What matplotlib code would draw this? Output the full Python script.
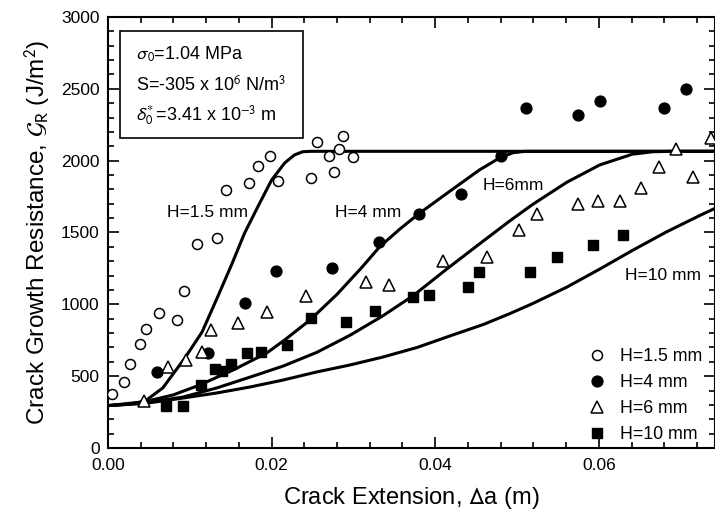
import matplotlib
matplotlib.use("Agg")
import matplotlib.pyplot as plt
from matplotlib.ticker import MultipleLocator
from matplotlib.patches import Rectangle

plt.rcParams["font.family"] = ["Liberation Sans", "DejaVu Sans"]
plt.rcParams["mathtext.fontset"] = "stixsans"

# measured points, crack extension (m) vs G_R (J/m^2)
x_h15 = [0.0005, 0.0020, 0.0027, 0.0039, 0.0046, 0.0062, 0.0084, 0.0093, 0.0109,
         0.0133, 0.0144, 0.0172, 0.0184, 0.0198, 0.0208, 0.0248, 0.0255, 0.0270,
         0.0276, 0.0282, 0.0287, 0.0299]
y_h15 = [376, 459, 585, 724, 828, 940, 891, 1093, 1420,
         1462, 1796, 1844, 1963, 2032, 1858, 1879, 2130, 2032,
         1921, 2081, 2172, 2025]

x_h4 = [0.0060, 0.0122, 0.0167, 0.0205, 0.0274, 0.0331, 0.0380, 0.0432, 0.0481,
        0.0511, 0.0575, 0.0601, 0.0680, 0.0706]
y_h4 = [529, 661, 1009, 1232, 1253, 1434, 1629, 1768, 2032,
        2366, 2318, 2415, 2366, 2499]

x_h6 = [0.0044, 0.0073, 0.0095, 0.0115, 0.0126, 0.0159, 0.0195, 0.0242, 0.0316,
        0.0343, 0.0409, 0.0463, 0.0503, 0.0524, 0.0574, 0.0599, 0.0626, 0.0652,
        0.0673, 0.0694, 0.0715, 0.0737]
y_h6 = [327, 564, 612, 668, 821, 870, 947, 1058, 1155,
        1134, 1301, 1329, 1517, 1629, 1698, 1719, 1719, 1810,
        1956, 2081, 1886, 2158]

x_h10 = [0.0071, 0.0092, 0.0114, 0.0131, 0.0139, 0.0151, 0.0170, 0.0187, 0.0219,
         0.0248, 0.0291, 0.0326, 0.0373, 0.0392, 0.0440, 0.0453, 0.0516, 0.0549,
         0.0593, 0.0629]
y_h10 = [292, 292, 438, 550, 536, 585, 661, 668, 717,
         905, 877, 954, 1051, 1065, 1121, 1225, 1225, 1329,
         1413, 1482]

# model curves
cx_h15 = [0.0, 0.0025, 0.0045, 0.0067, 0.0094, 0.0115, 0.0134, 0.0152, 0.0167,
          0.0183, 0.0200, 0.0216, 0.0228, 0.0238, 0.0248, 0.0742]
cy_h15 = [295, 305, 325, 418, 626, 807, 1051, 1288, 1496,
          1677, 1865, 1984, 2040, 2062, 2065, 2065]

cx_h4 = [0.0, 0.0045, 0.0080, 0.0112, 0.0153, 0.0194, 0.0216, 0.0247, 0.0280,
         0.0310, 0.0332, 0.0357, 0.0381, 0.0421, 0.0454, 0.0479, 0.0495,
         0.0510, 0.0742]
cy_h4 = [295, 322, 370, 438, 543, 661, 752, 891, 1070,
         1255, 1400, 1525, 1635, 1800, 1935, 2020, 2055, 2065, 2065]

cx_h6 = [0.0, 0.0045, 0.0092, 0.0133, 0.0174, 0.0214, 0.0255, 0.0296, 0.0336,
         0.0373, 0.0414, 0.0454, 0.0491, 0.0519, 0.0561, 0.0601,
         0.0641, 0.0666, 0.0690, 0.0742]
cy_h6 = [295, 315, 355, 418, 494, 570, 665, 785, 920,
         1060, 1245, 1420, 1580, 1695, 1850, 1970,
         2045, 2062, 2065, 2065]

cx_h10 = [0.0, 0.0045, 0.0092, 0.0133, 0.0174, 0.0214, 0.0255, 0.0296, 0.0336,
          0.0378, 0.0418, 0.0459, 0.0491, 0.0519, 0.0561, 0.0601, 0.0641,
          0.0683, 0.0724, 0.0742]
cy_h10 = [295, 310, 348, 383, 425, 473, 529, 578, 633,
          700, 780, 860, 935, 1005, 1120, 1245, 1375,
          1505, 1620, 1668]

fig = plt.figure(figsize=(7.15, 5.13), dpi=100)
ax = fig.add_axes([0.151, 0.1267, 0.849, 0.8402])

for cx, cy in [(cx_h15, cy_h15), (cx_h4, cy_h4), (cx_h6, cy_h6), (cx_h10, cy_h10)]:
    ax.plot(cx, cy, color="black", linewidth=2.2, zorder=2,
            solid_joinstyle="round")

ax.plot(x_h15, y_h15, "o", mfc="white", mec="black", mew=1.1, ms=7.2,
        linestyle="none", label="H=1.5 mm", zorder=3)
ax.plot(x_h4, y_h4, "o", mfc="black", mec="black", ms=7.8,
        linestyle="none", label="H=4 mm", zorder=3)
ax.plot(x_h6, y_h6, "^", mfc="white", mec="black", mew=1.1, ms=8,
        linestyle="none", label="H=6 mm", zorder=3)
ax.plot(x_h10, y_h10, "s", mfc="black", mec="black", ms=6.5,
        linestyle="none", label="H=10 mm", zorder=3)

ax.text(0.0122, 1642, "H=1.5 mm", fontsize=12.5, ha="center", va="center")
ax.text(0.0318, 1636, "H=4 mm", fontsize=12.5, ha="center", va="center")
ax.text(0.0495, 1830, "H=6mm", fontsize=12.5, ha="center", va="center")
ax.text(0.0678, 1204, "H=10 mm", fontsize=12.5, ha="center", va="center")

# parameter box
ax.add_patch(Rectangle((0.0198, 0.719), 0.301, 0.2485, transform=ax.transAxes,
                       fill=False, edgecolor="black", linewidth=1.2, zorder=4))
ax.text(0.046, 0.914, r"$\sigma_0$=1.04 MPa", transform=ax.transAxes,
        fontsize=13, va="center")
ax.text(0.046, 0.842, r"S=-305 x 10$^6$ N/m$^3$", transform=ax.transAxes,
        fontsize=13, va="center")
ax.text(0.046, 0.770, r"$\delta^*_0$=3.41 x 10$^{-3}$ m", transform=ax.transAxes,
        fontsize=13, va="center")

ax.legend(loc="lower right", bbox_to_anchor=(1.002, -0.021), frameon=False,
          fontsize=12.8, handletextpad=0.7, labelspacing=0.5, borderpad=0.3,
          handlelength=1.2)

ax.set_xlim(0, 0.0742)
ax.set_ylim(0, 3000)
ax.xaxis.set_major_locator(MultipleLocator(0.02))
ax.xaxis.set_minor_locator(MultipleLocator(0.004))
ax.yaxis.set_major_locator(MultipleLocator(500))
ax.yaxis.set_minor_locator(MultipleLocator(100))
ax.xaxis.set_major_formatter(lambda v, p: f"{v:.2f}")
ax.tick_params(which="both", direction="in", top=True, right=True,
               labelsize=12.5, width=1.2)
ax.tick_params(axis="x", which="major", pad=7)
ax.tick_params(axis="y", which="major", pad=6)
ax.tick_params(which="major", length=8)
ax.tick_params(which="minor", length=4.5)
for s in ax.spines.values():
    s.set_linewidth(1.5)

ax.set_xlabel(r"Crack Extension, $\Delta$a (m)", fontsize=17, labelpad=9)
ax.set_ylabel(r"Crack Growth Resistance, $\mathcal{G}_\mathrm{R}$ (J/m$^2$)",
              fontsize=17.5, labelpad=6)

fig.savefig("out.png", dpi=100)
